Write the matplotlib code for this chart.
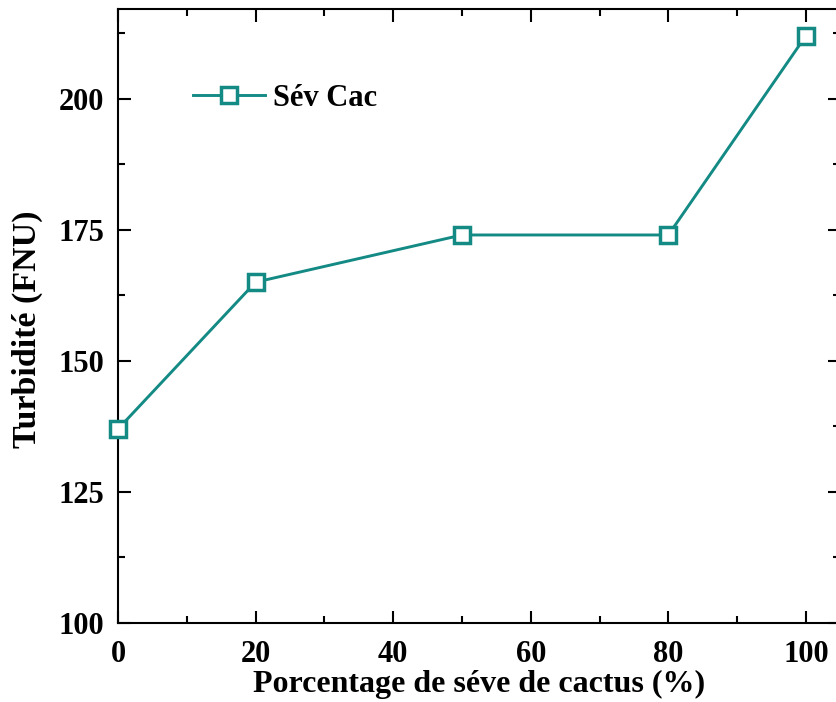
import matplotlib
matplotlib.use("Agg")
import matplotlib.pyplot as plt
from matplotlib.ticker import MultipleLocator

# Turbidité en fonction du pourcentage de sève de cactus
pourcentage = [0, 20, 50, 80, 100]
turbidite = [137, 165, 174, 174, 212]

TEAL = "#148A85"

plt.rcParams["font.family"] = ["Liberation Serif", "DejaVu Serif"]
plt.rcParams["font.weight"] = "bold"

fig = plt.figure(figsize=(8.37, 7.02), dpi=100, facecolor="white")
ax = fig.add_axes([0.141, 0.1125, 0.863, 0.874])

ax.plot(pourcentage, turbidite, color=TEAL, lw=2.1, marker="s",
        markersize=12, markerfacecolor="white", markeredgecolor=TEAL,
        markeredgewidth=2.5, label="Sév Cac", clip_on=False, zorder=3)

ax.set_xlim(0, 105)
ax.set_ylim(100, 217)
ax.xaxis.set_major_locator(MultipleLocator(20))
ax.xaxis.set_minor_locator(MultipleLocator(10))
ax.yaxis.set_major_locator(MultipleLocator(25))
ax.yaxis.set_minor_locator(MultipleLocator(12.5))

ax.tick_params(which="both", direction="in", top=True, right=True,
               width=1.5, labelsize=22)
ax.tick_params(which="major", length=9)
ax.tick_params(which="minor", length=5)
ax.tick_params(axis="x", which="major", pad=12)
ax.tick_params(axis="y", which="major", pad=10)
for sp in ax.spines.values():
    sp.set_linewidth(1.5)

ax.set_xlabel("Porcentage de séve de cactus (%)", fontsize=23,
              fontweight="bold", labelpad=1)
ax.set_ylabel("Turbidité (FNU)", fontsize=24.5, fontweight="bold")
ax.yaxis.set_label_coords(-0.104, 0.479)

ax.legend(loc="center left", bbox_to_anchor=(0.104, 0.855), frameon=False,
          fontsize=22, handlelength=2.35, handletextpad=0.26,
          borderpad=0, borderaxespad=0)

fig.savefig("out.png", dpi=100, facecolor="white")
